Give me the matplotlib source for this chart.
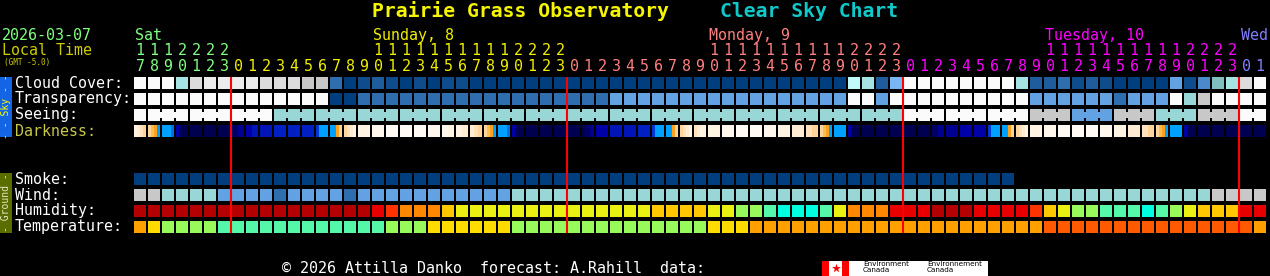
import numpy as np
import matplotlib.pyplot as plt
from matplotlib.patches import Rectangle

# one column per forecast hour
hours = list(range(17, 24)) + list(range(24)) * 3 + [0, 1]
day_of_col = [0] * 7 + [1] * 24 + [2] * 24 + [3] * 24 + [4] * 2
day_names = ["Sat", "Sunday, 8", "Monday, 9", "Tuesday, 10", "Wed"]
day_colors = ["#80ff80", "#f0f000", "#ff8080", "#ff00ff", "#8080ff"]

# colour codes, one character per hour
cloud = ("WWWqbaaaabbbccMDONOD" "ODOODDDDDDDDDDDDDDDD"
         "DDDDDDDDDDDQqNPWWWWW" "WWWqNNMONODDDDLOKTqbW")
transparency = ("WWWWWWWWWWWWWWDDMMMM" "MMMMMMMMMMMMMMLLLLLL"
                "LLLLLLLLLLLWWLWWWWWW" "WWWWLLLLLLMLLLWScWWWW")
seeing = ("WWWWWWWWWWSSSSSSSSSS" "SSSSSSSSSSSSSSSSSSSS"
          "SSSSSSSSSSSSSSSWWWWW" "WWWWcccLLLcccSSScccWW")
smoke = ("DDDDDDDDDDDDDDDDDDDD" "DDDDDDDDDDDDDDDDDDDD"
         "DDDDDDDDDDDDDDDDDDDD" "DDD")
wind = ("ccSSSSLLLLMLLLLMLLLL" "LLLLLLLSSSSSSSSSSSSS"
        "SSSSSSSSSSSSSSSSSSSS" "SSSSSSSSSSSSSSSSScccc")
humidity = ("RRRRRRRRRRRRRRRRRreg" "ggYyyyyyyyyyyyyyyYYY"
            "YyyGGmCCCmygggrrrRRR" "rrrreYyGGmmmCmGyYYYrr")
temperature = ("ozGGGGmmmmmmmmmmmmGG" "GzzzzzzGGGGGGGGGGGGG"
               "Gzzzoooooooooooooooo" "ooooofffffffffffffffo")
# darkness cells hold several shades (sunset / sunrise gradients)
darkness = ("kjih hpoB BBBb vmnn n n n mu vx x y y y zBBB BBoh hijk k l w w "
            "w l lk kj jih hpoB BBBb vmnn n n n n nmu v x x y zBBB BBoh hijk "
            "ijkk k l w w l k j ih hpoB B vnnn n n n n n mu u v "
            "v zBBB BBoh hijk k l w w w l k j ih hpoB B vnnn n n n n n").split()

sky_pal = {"W": "#fbfbfb", "a": "#ececec", "b": "#dcdcdc", "c": "#c8c8c8",
           "q": "#a6e3e3", "Q": "#bff9f9", "T": "#7fbfbf", "S": "#99d6d6",
           "P": "#78b6f4", "L": "#63a2e2", "K": "#4a8acb", "M": "#2e6eae",
           "N": "#1e5c9c", "O": "#0f4c8c", "D": "#003e7e"}
dark_pal = {"n": "#000050", "m": "#000064", "u": "#000090", "v": "#0000a8",
            "x": "#0014b8", "y": "#0020c4", "z": "#0038d8", "b": "#0070e8",
            "B": "#00a0ff", "o": "#ffa020", "p": "#ffbc50", "h": "#ffd49a",
            "i": "#ffe2bc", "j": "#ffecd2", "k": "#fff3e2", "l": "#fff7ec",
            "w": "#fffaf4"}
heat_pal = {"R": "#b40000", "r": "#e80000", "e": "#ff3300", "g": "#ff8800",
            "Y": "#ffc800", "y": "#eaf112", "G": "#98fa5a", "m": "#55f8a8",
            "C": "#00fde0", "o": "#ffa000", "z": "#ffdc00", "f": "#ff5a00"}

CELL_W = 12 / 14
CELL_H = 12 / 16
FONT = "DejaVu Sans Mono"
FS = 10.8


def draw_row(ax, codes, row, pal):
    x = np.arange(len(codes))
    ax.bar(x, CELL_H, width=CELL_W, bottom=row, align="edge",
           color=[pal[c] for c in codes], linewidth=0)


fig = plt.figure(figsize=(12.7, 2.76), dpi=100, facecolor="black")

# pixel overlay for labels and decorations
pix = fig.add_axes([0, 0, 1, 1])
pix.set_xlim(0, 1270)
pix.set_ylim(276, 0)
pix.axis("off")

# hourly grid: x in columns, y in rows
ax = fig.add_axes([134 / 1270, 1 - 237 / 276, 1134 / 1270, 160 / 276])
ax.set_xlim(0, 81)
ax.set_ylim(10, 0)
ax.axis("off")

draw_row(ax, cloud, 0, sky_pal)
draw_row(ax, transparency, 1, sky_pal)
draw_row(ax, seeing, 2, sky_pal)
draw_row(ax, smoke, 6, sky_pal)
draw_row(ax, wind, 7, sky_pal)
draw_row(ax, humidity, 8, heat_pal)
draw_row(ax, temperature, 9, heat_pal)

# seeing comes in 3-hour blocks joined by small bridges
for k in range(len(seeing) - 1):
    if k % 3 in (1, 2) and seeing[k] == seeing[k + 1]:
        ax.bar(k + CELL_W, 6 / 16, width=1 - CELL_W, bottom=2 + 3 / 16,
               align="edge", color=sky_pal[seeing[k]], linewidth=0)

for k, parts in enumerate(darkness):
    n = len(parts)
    sub = CELL_W / n
    ax.bar(k + np.arange(n) * sub, CELL_H, width=sub * 1.02, bottom=3,
           align="edge", color=[dark_pal[c] for c in parts], linewidth=0)

# midnight markers
midnights = [k - 1 / 14 for k, h in enumerate(hours) if h == 0]
ax.vlines(midnights, -0.06, 9.75, color="#ff0000", linewidth=1.5, zorder=5)

# hour digits and day names
first_col = {}
for k, h in enumerate(hours):
    d = day_of_col[k]
    col = day_colors[d]
    ax.text(k + 0.43, -0.4, str(h % 10), color=col, family=FONT, fontsize=FS,
            ha="center", va="baseline", clip_on=False)
    if h >= 10:
        ax.text(k + 0.43, -1.375, str(h // 10), color=col, family=FONT,
                fontsize=FS, ha="center", va="baseline", clip_on=False)
        first_col.setdefault(d, k)
for d in range(len(day_names)):
    k = first_col.get(d, day_of_col.index(d))
    ax.text(k + 0.05, -2.31, day_names[d], color=day_colors[d], family=FONT,
            fontsize=FS, ha="left", va="baseline", clip_on=False)

# title and header
pix.text(372, 17, "Prairie Grass Observatory", color="#f5f500", family=FONT,
         fontsize=14.2, fontweight="bold", va="baseline")
pix.text(720, 17, "Clear Sky Chart", color="#10c8c8", family=FONT,
         fontsize=14.2, fontweight="bold", va="baseline")
pix.text(2, 40, "2026-03-07", color="#80ff80", family=FONT, fontsize=FS,
         va="baseline")
pix.text(2, 55, "Local Time", color="#cccc00", family=FONT, fontsize=FS,
         va="baseline")
pix.text(4, 65, "(GMT -5.0)", color="#cccc00", family=FONT, fontsize=5.5,
         va="baseline")

# row labels
row_labels = {0: "Cloud Cover:", 1: "Transparency:", 2: "Seeing:",
              3: "Darkness:", 6: "Smoke:", 7: "Wind:", 8: "Humidity:",
              9: "Temperature:"}
for r, lab in row_labels.items():
    pix.text(15, 77 + 16 * r + 10.5, lab, family=FONT, fontsize=FS,
             color="#c8c846" if r == 3 else "white", va="baseline")

# side tabs
pix.add_patch(Rectangle((0, 77), 12, 60, color="#1464e6", linewidth=0))
pix.text(6, 107, "- - Sky - -", rotation=90, color="#ffff00", family=FONT,
         fontsize=7, ha="center", va="center")
pix.add_patch(Rectangle((0, 173), 12, 60, color="#5a6e00", linewidth=0))
pix.text(6, 203, "- Ground -", rotation=90, color="#e6e6c0", family=FONT,
         fontsize=7, ha="center", va="center")

# footer
pix.text(282, 273, "\u00a9 2026 Attilla Danko  forecast: A.Rahill  data:",
         color="white", family=FONT, fontsize=FS, va="baseline")
pix.add_patch(Rectangle((822, 261), 166, 15, color="white", linewidth=0))
pix.add_patch(Rectangle((822, 261), 7, 15, color="#ff0000", linewidth=0))
pix.add_patch(Rectangle((842, 261), 7, 15, color="#ff0000", linewidth=0))
pix.scatter([835.5], [268], marker="*", s=45, color="#ff0000", linewidths=0)
pix.text(863, 261, "Environment\nCanada", color="black", family="DejaVu Sans",
         fontsize=5.2, va="top", linespacing=0.95)
pix.text(927, 261, "Environnement\nCanada", color="black",
         family="DejaVu Sans", fontsize=5.2, va="top", linespacing=0.95)

fig.savefig("out.png", dpi=100, facecolor="black")
